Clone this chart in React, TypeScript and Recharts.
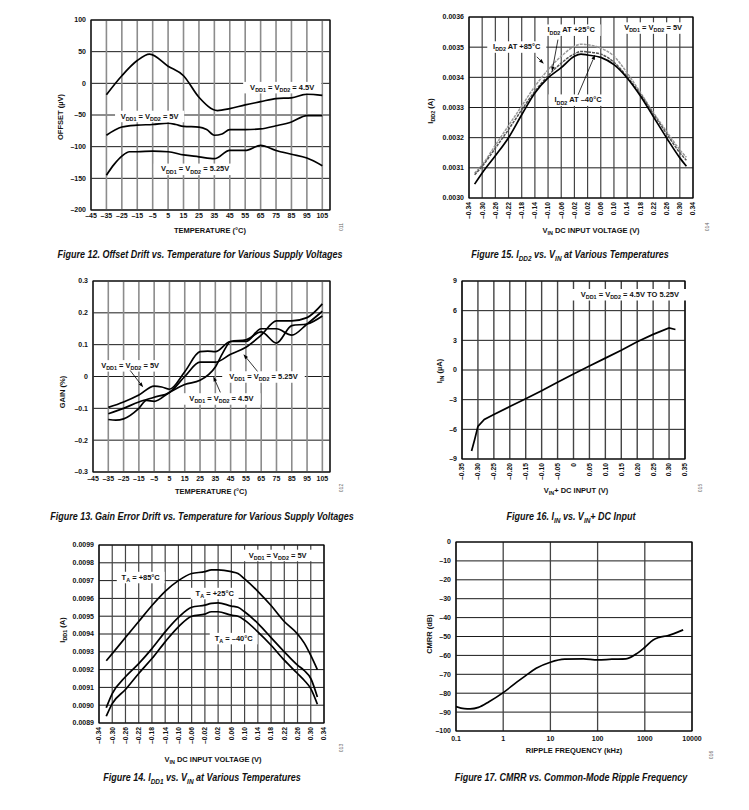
import React from "react";
import {
  CartesianGrid,
  Line,
  LineChart,
  ReferenceArea,
  ReferenceDot,
  ReferenceLine,
  XAxis,
  YAxis,
} from "recharts";

const FONT = "'Liberation Sans', Arial, Helvetica, sans-serif";

// ---- Figure 12: offset drift vs temperature
const OFS_T_45 = [-35, -25, -15, -7, 5, 15, 25, 37, 45, 55, 65, 75, 85, 95, 105];
const OFS_45 = [-18, 12, 36, 46, 27, 12, -22, -43, -40, -34, -29, -24, -23, -17, -19];
const OFS_T_50 = [-35, -25, -15, -5, 5, 10, 15, 25, 30, 35, 40, 45, 55, 65, 75, 85, 95, 105];
const OFS_50 = [-82, -69, -66, -65, -63, -65, -68, -69, -73, -82, -80, -73, -73, -72, -67, -61, -51, -51];
const OFS_T_525 = [-35, -30, -25, -20, -15, -5, 5, 15, 25, 35, 45, 55, 65, 75, 85, 95, 105];
const OFS_525 = [-145, -128, -115, -108, -108, -107, -108, -113, -116, -119, -106, -106, -98, -106, -112, -118, -130];

// ---- Figure 13: gain error drift vs temperature
const GAIN_T_50 = [-35, -25, -15, -5, 0, 5, 15, 25, 30, 35, 45, 55, 65, 75, 85, 95, 105];
const GAIN_50 = [-0.097, -0.08, -0.058, -0.03, -0.033, -0.04, 0.015, 0.078, 0.08, 0.078, 0.11, 0.11, 0.15, 0.15, 0.13, 0.165, 0.205];
const GAIN_T_525 = [-35, -25, -15, -5, 5, 15, 25, 35, 45, 55, 65, 75, 85, 95, 105];
const GAIN_525 = [-0.117, -0.1, -0.08, -0.065, -0.05, 0.0, 0.045, 0.045, 0.07, 0.092, 0.13, 0.175, 0.175, 0.185, 0.228];
const GAIN_T_45 = [-35, -30, -25, -15, -10, -5, 5, 15, 25, 35, 40, 45, 55, 65, 75, 85, 95, 105];
const GAIN_45 = [-0.135, -0.137, -0.133, -0.1, -0.075, -0.078, -0.05, -0.025, -0.012, 0.03, 0.075, 0.11, 0.115, 0.14, 0.105, 0.16, 0.165, 0.19];

// ---- Figure 15: IDD2 vs VIN
const IDD2_V = [-0.323, -0.3, -0.26, -0.22, -0.18, -0.14, -0.1, -0.06, -0.02, 0, 0.02, 0.06, 0.1, 0.14, 0.18, 0.22, 0.26, 0.3, 0.32];
const IDD2_M40 = [0.003046, 0.003083, 0.00314, 0.0032, 0.003276, 0.003348, 0.003398, 0.003432, 0.00347, 0.003477, 0.003474, 0.003466, 0.003442, 0.003398, 0.003339, 0.003269, 0.003199, 0.003133, 0.003105];
const IDD2_P25 = [0.003077, 0.003105, 0.003165, 0.003227, 0.003292, 0.003354, 0.003405, 0.003447, 0.003478, 0.003486, 0.003484, 0.003477, 0.00345, 0.003402, 0.003345, 0.003278, 0.003213, 0.00315, 0.003125];
const IDD2_P85 = [0.003083, 0.00311, 0.003175, 0.00324, 0.003305, 0.00337, 0.003425, 0.00347, 0.003503, 0.00351, 0.003508, 0.003497, 0.00347, 0.003415, 0.00335, 0.003283, 0.00322, 0.00316, 0.003135];

// ---- Figure 16: IIN vs VIN+
const IIN_V = [-0.32, -0.31, -0.3, -0.28, -0.25, -0.2, -0.15, -0.1, -0.05, 0, 0.05, 0.1, 0.15, 0.2, 0.25, 0.3, 0.32];
const IIN = [-8.2, -7.0, -5.7, -5.0, -4.5, -3.7, -2.9, -2.1, -1.25, -0.4, 0.4, 1.2, 2.0, 2.85, 3.6, 4.25, 4.1];

// ---- Figure 14: IDD1 vs VIN
const IDD1_V = [-0.318, -0.3, -0.26, -0.22, -0.18, -0.14, -0.1, -0.06, -0.02, 0, 0.02, 0.06, 0.08, 0.1, 0.14, 0.18, 0.22, 0.26, 0.28, 0.3, 0.32];
const IDD1_P85 = [0.00925, 0.00929, 0.00938, 0.00947, 0.00956, 0.00964, 0.0097, 0.00974, 0.00975, 0.00976, 0.00976, 0.00975, 0.00974, 0.00971, 0.00964, 0.00956, 0.00947, 0.0094, 0.00935, 0.00928, 0.0092];
const IDD1_P25 = [0.008986, 0.009065, 0.00916, 0.009234, 0.009318, 0.009412, 0.009493, 0.00955, 0.009562, 0.009572, 0.009575, 0.009557, 0.00955, 0.009525, 0.00946, 0.00938, 0.0093, 0.009225, 0.009195, 0.00915, 0.009046];
const IDD1_M40 = [0.008938, 0.009009, 0.009088, 0.009178, 0.009262, 0.009356, 0.00944, 0.0095, 0.009512, 0.009525, 0.009525, 0.009506, 0.0095, 0.009478, 0.009412, 0.009337, 0.009253, 0.009178, 0.00914, 0.009093, 0.009005];

// ---- Figure 17: CMRR vs ripple frequency
const FREQ = [0.1, 0.15, 0.2, 0.3, 0.5, 1, 2, 3, 5, 10, 20, 50, 100, 200, 400, 700, 1000, 1500, 2000, 3000, 6500];
const CMRR = [-87.1, -88.2, -88.3, -87.5, -84.5, -79.7, -73.9, -70.7, -66.8, -63.6, -62, -61.8, -62.4, -62, -61.8, -58.8, -55.7, -51.8, -50.5, -49.6, -46.5];

// ticks
const TEMP_TICKS = [-45, -35, -25, -15, -5, 5, 15, 25, 35, 45, 55, 65, 75, 85, 95, 105];
const VIN34_TICKS = [-0.34, -0.3, -0.26, -0.22, -0.18, -0.14, -0.1, -0.06, -0.02, 0.02, 0.06, 0.1, 0.14, 0.18, 0.22, 0.26, 0.3, 0.34];
const VIN35_TICKS = [-0.35, -0.3, -0.25, -0.2, -0.15, -0.1, -0.05, 0, 0.05, 0.1, 0.15, 0.2, 0.25, 0.3, 0.35];
const OFS_TICKS = [-200, -150, -100, -50, 0, 50, 100];
const GAIN_TICKS = [-0.3, -0.2, -0.1, 0, 0.1, 0.2, 0.3];
const IDD2_TICKS = [0.003, 0.0031, 0.0032, 0.0033, 0.0034, 0.0035, 0.0036];
const IIN_TICKS = [-9, -6, -3, 0, 3, 6, 9];
const IDD1_TICKS = [0.0089, 0.009, 0.0091, 0.0092, 0.0093, 0.0094, 0.0095, 0.0096, 0.0097, 0.0098, 0.0099];
const CMRR_TICKS = [-100, -90, -80, -70, -60, -50, -40, -30, -20, -10, 0];
const FREQ_TICKS = [0.1, 1, 10, 100, 1000, 10000];

const pts = (xs: number[], ys: number[]) => xs.map((x, i) => ({ x, y: ys[i] }));
const neg = (s: string) => s.replace("-", "–");
const fInt = (v: number) => neg(String(v));
const fFix = (d: number) => (v: number) => (Math.abs(v) < 1e-9 ? "0" : neg(v.toFixed(d)));

type Box = { x0: number; x1: number; y0: number; y1: number };
const YW = 60;
const MT = 6;
const MR = 22;
const XH = 50;

function Rich({ x, y, parts, size = 7.5, anchor = "middle", transform, italic }: any) {
  const sub = size * 0.72;
  const sh = size * 0.3;
  let down = false;
  const spans = parts.map((p: string, i: number) => {
    const isSub = p.startsWith("_");
    const t = isSub ? p.slice(1) : p;
    let dy = 0;
    if (isSub && !down) {
      dy = sh;
      down = true;
    } else if (!isSub && down) {
      dy = -sh;
      down = false;
    }
    return (
      <tspan key={i} dy={dy || undefined} fontSize={isSub ? sub : size}>
        {t}
      </tspan>
    );
  });
  return (
    <text
      x={x}
      y={y}
      textAnchor={anchor}
      fontFamily={FONT}
      fontWeight="bold"
      fontStyle={italic ? "italic" : undefined}
      fontSize={size}
      fill="#111"
      transform={transform}
    >
      {spans}
    </text>
  );
}

// caption in a condensed look: bold italic, squeezed horizontally
function Caption({ x, y, parts }: { x: number; y: number; parts: string[] }) {
  return <Rich x={0} y={0} parts={parts} size={10} italic transform={`translate(${x} ${y}) scale(0.9 1)`} />;
}

function noteShape(parts: string[], size = 7.5) {
  return (p: any) => {
    const w = parts.reduce((s, t) => s + (t.startsWith("_") ? (t.length - 1) * size * 0.72 * 0.62 : t.length * size * 0.6), 0);
    return (
      <g>
        <rect x={p.cx - w / 2 - 2} y={p.cy - size / 2 - 1.5} width={w + 4} height={size + 4} fill="#fff" />
        <Rich x={p.cx} y={p.cy + size * 0.35} parts={parts} size={size} />
      </g>
    );
  };
}

function arrowShape(p: any) {
  const { x1, y1, x2, y2 } = p;
  const a = Math.atan2(y2 - y1, x2 - x1);
  const L = 5;
  const W = 1.8;
  const bx = x2 - L * Math.cos(a);
  const by = y2 - L * Math.sin(a);
  const tri = `${x2},${y2} ${bx - W * Math.sin(a)},${by + W * Math.cos(a)} ${bx + W * Math.sin(a)},${by - W * Math.cos(a)}`;
  return (
    <g>
      <line x1={x1} y1={y1} x2={bx} y2={by} stroke="#000" strokeWidth={0.8} />
      <polygon points={tri} fill="#000" />
    </g>
  );
}

function XTick({ x, y, payload, fmt, rot }: any) {
  if (rot) {
    return (
      <text x={x} y={y} dy="0.35em" textAnchor="end" transform={`rotate(-90 ${x} ${y})`} fontFamily={FONT} fontWeight="bold" fontSize={6.8} fill="#111">
        {fmt(payload.value)}
      </text>
    );
  }
  return (
    <text x={x} y={y} dy="0.71em" textAnchor="middle" fontFamily={FONT} fontWeight="bold" fontSize={7} fill="#111">
      {fmt(payload.value)}
    </text>
  );
}

function YTick({ x, y, payload, fmt }: any) {
  return (
    <text x={x} y={y} dy="0.35em" textAnchor="end" fontFamily={FONT} fontWeight="bold" fontSize={7} fill="#111">
      {fmt(payload.value)}
    </text>
  );
}

function Panel({ box, xd, xt, xf, rot, log, xm, yd, yt, yf, vs, vw, children }: any) {
  const w = box.x1 - box.x0 + YW + MR;
  const h = box.y1 - box.y0 + MT + XH;
  return (
    <div style={{ position: "absolute", left: box.x0 - YW, top: box.y0 - MT }}>
      <LineChart width={w} height={h} margin={{ top: MT, right: MR, left: 0, bottom: 0 }}>
        <CartesianGrid vertical={false} stroke="#1a1a1a" strokeWidth={1} />
        <CartesianGrid horizontal={false} stroke={vs} strokeWidth={vw} />
        <XAxis
          type="number"
          dataKey="x"
          scale={log ? "log" : "auto"}
          domain={xd}
          ticks={xt}
          interval={0}
          allowDataOverflow
          axisLine={false}
          tickLine={false}
          tickSize={0}
          tickMargin={xm}
          height={XH}
          tick={(p: any) => <XTick {...p} fmt={xf} rot={rot} />}
        />
        <YAxis
          type="number"
          domain={yd}
          ticks={yt}
          interval={0}
          allowDataOverflow
          axisLine={false}
          tickLine={false}
          tickSize={0}
          tickMargin={5}
          width={YW}
          tick={(p: any) => <YTick {...p} fmt={yf} />}
        />
        <ReferenceArea x1={xd[0]} x2={xd[1]} y1={yd[0]} y2={yd[1]} fill="none" fillOpacity={0} stroke="#000" strokeWidth={1.2} />
        {children}
      </LineChart>
    </div>
  );
}

const curve = (key: string, data: any[], extra: any = {}) => (
  <Line
    key={key}
    data={data}
    dataKey="y"
    type="monotone"
    stroke="#000"
    strokeWidth={1.7}
    dot={false}
    isAnimationActive={false}
    {...extra}
  />
);

const note = (k: string, x: number, y: number, parts: string[]) => (
  <ReferenceDot key={k} x={x} y={y} r={1} shape={noteShape(parts)} zIndex={1500} />
);
const arrow = (k: string, a: [number, number], b: [number, number]) => (
  <ReferenceLine key={k} segment={[{ x: a[0], y: a[1] }, { x: b[0], y: b[1] }]} shape={arrowShape} zIndex={1500} />
);
const veq = (v: string) => ["V", "_DD1", " = V", "_DD2", ` = ${v}`];

const B12: Box = { x0: 91, x1: 330, y0: 20, y1: 210 };
const B15: Box = { x0: 469, x1: 693, y0: 17, y1: 198 };
const B13: Box = { x0: 93, x1: 330, y0: 281, y1: 472 };
const B16: Box = { x0: 462, x1: 685, y0: 281, y1: 459 };
const B14: Box = { x0: 99, x1: 324, y0: 545, y1: 723 };
const B17: Box = { x0: 456, x1: 692, y0: 542, y1: 731 };

export default function App() {
  return (
    <div style={{ position: "absolute", left: 0, top: 0, width: 749, height: 810, background: "#fff" }}>
      <Panel box={B12} xd={[-45, 110]} xt={TEMP_TICKS} xf={fInt} xm={3} yd={[-200, 100]} yt={OFS_TICKS} yf={fInt} vs="#8c8c8c" vw={1.6}>
        {curve("o45", pts(OFS_T_45, OFS_45))}
        {curve("o50", pts(OFS_T_50, OFS_50))}
        {curve("o525", pts(OFS_T_525, OFS_525))}
        {note("n1", 79, -6, veq("4.5V"))}
        {note("n2", -7, -51.5, veq("5V"))}
        {note("n3", 22.5, -135, veq("5.25V"))}
      </Panel>

      <Panel box={B15} xd={[-0.34, 0.34]} xt={VIN34_TICKS} xf={fFix(2)} rot xm={4} yd={[0.003, 0.0036]} yt={IDD2_TICKS} yf={fFix(4)} vs="#444" vw={1.2}>
        {curve("i85", pts(IDD2_V, IDD2_P85), { stroke: "#9a9a9a", strokeDasharray: "3 1", strokeWidth: 1.5 })}
        {curve("i25", pts(IDD2_V, IDD2_P25), { stroke: "#555", strokeDasharray: "3 1", strokeWidth: 1.5 })}
        {curve("i40", pts(IDD2_V, IDD2_M40))}
        {note("m1", 0.219, 0.003565, veq("5V"))}
        {note("m2", -0.03, 0.003558, ["I", "_DD2", " AT +25°C"])}
        {note("m3", -0.195, 0.003502, ["I", "_DD2", " AT +85°C"])}
        {note("m4", -0.009, 0.003326, ["I", "_DD2", " AT –40°C"])}
        {arrow("a1", [-0.07, 0.003525], [-0.088, 0.003419])}
        {arrow("a2", [-0.134, 0.003468], [-0.113, 0.003445])}
        {arrow("a3", [-0.009, 0.003342], [0.0427, 0.003475])}
      </Panel>

      <Panel box={B13} xd={[-45, 110]} xt={TEMP_TICKS} xf={fInt} xm={4} yd={[-0.3, 0.3]} yt={GAIN_TICKS} yf={fFix(1)} vs="#8c8c8c" vw={1.6}>
        {curve("g50", pts(GAIN_T_50, GAIN_50))}
        {curve("g525", pts(GAIN_T_525, GAIN_525))}
        {curve("g45", pts(GAIN_T_45, GAIN_45))}
        {note("q1", -20.7, 0.035, veq("5V"))}
        {note("q2", 66.5, 0.0, veq("5.25V"))}
        {note("q3", 39, -0.069, veq("4.5V"))}
        {arrow("b1", [-20.7, 0.019], [-12.2, -0.034])}
        {arrow("b2", [62.6, 0.016], [53.4, 0.07])}
        {arrow("b3", [38.3, -0.05], [33.7, 0.0])}
      </Panel>

      <Panel box={B16} xd={[-0.35, 0.35]} xt={VIN35_TICKS} xf={fFix(2)} rot xm={4} yd={[-9, 9]} yt={IIN_TICKS} yf={fInt} vs="#444" vw={1.4}>
        {curve("iin", pts(IIN_V, IIN), { type: "linear" })}
        {note("r1", 0.177, 7.66, ["V", "_DD1", " = V", "_DD2", " = 4.5V TO 5.25V"])}
      </Panel>

      <Panel box={B14} xd={[-0.34, 0.34]} xt={VIN34_TICKS} xf={fFix(2)} rot xm={4} yd={[0.0089, 0.0099]} yt={IDD1_TICKS} yf={fFix(4)} vs="#444" vw={1.2}>
        {curve("d85", pts(IDD1_V, IDD1_P85))}
        {curve("d25", pts(IDD1_V, IDD1_P25))}
        {curve("d40", pts(IDD1_V, IDD1_M40))}
        {note("s1", 0.2, 0.009844, veq("5V"))}
        {note("s2", -0.214, 0.00972, ["T", "_A", " = +85°C"])}
        {note("s3", 0.0097, 0.00963, ["T", "_A", " = +25°C"])}
        {note("s4", 0.067, 0.009377, ["T", "_A", " = –40°C"])}
      </Panel>

      <Panel box={B17} xd={[0.1, 10000]} xt={FREQ_TICKS} xf={(v: number) => String(v)} log xm={5} yd={[-100, 0]} yt={CMRR_TICKS} yf={fInt} vs="#444" vw={1.3}>
        {curve("cm", pts(FREQ, CMRR))}
      </Panel>

      <svg width={749} height={810} style={{ position: "absolute", left: 0, top: 0, pointerEvents: "none" }}>
        {/* axis titles */}
        <Rich x={63} y={117} parts={["OFFSET (µV)"]} transform="rotate(-90 63 117)" />
        <Rich x={210} y={233} parts={["TEMPERATURE (°C)"]} />
        <Rich x={433} y={111} parts={["I", "_DD2", " (A)"]} transform="rotate(-90 433 111)" />
        <Rich x={591} y={233} parts={["V", "_IN", " DC INPUT VOLTAGE (V)"]} />
        <Rich x={65} y={392} parts={["GAIN (%)"]} transform="rotate(-90 65 392)" />
        <Rich x={211} y={494} parts={["TEMPERATURE (°C)"]} />
        <Rich x={442} y={371} parts={["I", "_IN", " (µA)"]} transform="rotate(-90 442 371)" />
        <Rich x={576} y={493} parts={["V", "_IN", "+ DC INPUT (V)"]} />
        <Rich x={65} y={630} parts={["I", "_DD1", " (A)"]} transform="rotate(-90 65 630)" />
        <Rich x={213} y={762} parts={["V", "_IN", " DC INPUT VOLTAGE (V)"]} />
        <Rich x={432} y={634} parts={["CMRR (dB)"]} transform="rotate(-90 432 634)" />
        <Rich x={574} y={753} parts={["RIPPLE FREQUENCY (kHz)"]} />

        {/* captions */}
        <Caption x={200} y={258} parts={["Figure 12. Offset Drift vs. Temperature for Various Supply Voltages"]} />
        <Caption x={570} y={258} parts={["Figure 15. I", "_DD2", " vs. V", "_IN", " at Various Temperatures"]} />
        <Caption x={202} y={520} parts={["Figure 13. Gain Error Drift vs. Temperature for Various Supply Voltages"]} />
        <Caption x={571} y={520} parts={["Figure 16. I", "_IN", " vs. V", "_IN", "+ DC Input"]} />
        <Caption x={202} y={781} parts={["Figure 14. I", "_DD1", " vs. V", "_IN", " at Various Temperatures"]} />
        <Caption x={571} y={781} parts={["Figure 17. CMRR vs. Common-Mode Ripple Frequency"]} />

        {/* figure codes */}
        {[
          ["011", 343, 227],
          ["014", 709, 227],
          ["012", 343, 488],
          ["015", 702, 488],
          ["013", 343, 748],
          ["016", 713, 755],
        ].map(([t, x, y]) => (
          <text key={t as string} x={x as number} y={y as number} fontSize={5} fontFamily={FONT} fill="#666" textAnchor="middle" transform={`rotate(-90 ${x} ${y})`}>
            {t}
          </text>
        ))}
      </svg>
    </div>
  );
}
